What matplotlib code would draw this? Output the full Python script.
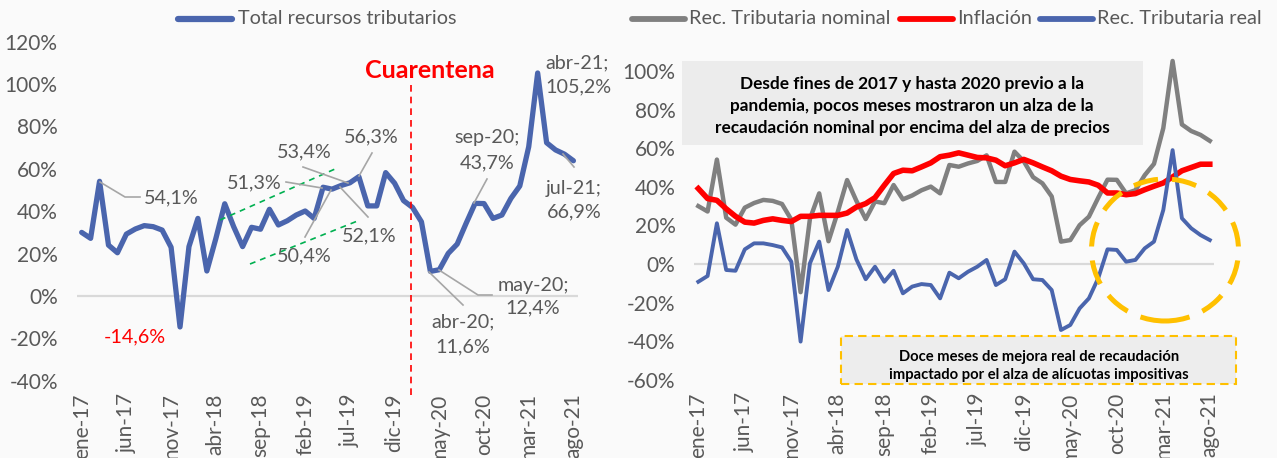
import matplotlib
matplotlib.use('Agg')
import matplotlib.pyplot as plt
from matplotlib.lines import Line2D
from matplotlib.patches import Ellipse, Rectangle

# ---------------- data ----------------
tick_labels = ['ene-17', 'jun-17', 'nov-17', 'abr-18', 'sep-18', 'feb-19', 'jul-19',
               'dic-19', 'may-20', 'oct-20', 'mar-21', 'ago-21']
tick_step = 5

# Total recursos tributarios / Rec. Tributaria nominal (% interanual), ene-17 .. ago-21
nominal = [30.0, 27.2, 54.1, 24.0, 20.4, 29.2, 31.6, 33.2, 32.7, 31.1,
           23.0, -14.6, 23.3, 36.6, 11.8, 27.0, 43.5, 32.7, 23.3, 32.4,
           31.5, 40.9, 33.5, 35.5, 38.2, 40.1, 36.6, 51.3, 50.4, 52.1,
           53.4, 56.3, 42.5, 42.5, 58.2, 53.2, 45.0, 41.8, 35.0, 11.6,
           12.4, 20.1, 24.5, 34.3, 43.7, 43.6, 36.6, 38.2, 46.0, 51.9,
           70.4, 105.2, 72.3, 68.9, 66.9, 63.8]

inflacion = [39.1, 33.9, 33.0, 28.6, 24.7, 21.7, 21.2, 22.6, 23.4, 22.6,
             22.0, 24.7, 24.7, 25.2, 25.2, 25.2, 26.4, 29.5, 31.3, 34.4,
             40.8, 46.9, 48.6, 48.3, 50.3, 52.4, 55.6, 56.4, 57.6, 56.4,
             55.2, 55.0, 53.8, 50.9, 52.4, 54.2, 52.4, 50.3, 48.3, 45.5,
             43.8, 43.1, 42.5, 40.8, 36.8, 36.8, 35.9, 36.5, 38.5, 40.3,
             42.0, 45.1, 48.3, 50.0, 51.7, 51.7]

real = [-9.2, -6.2, 21.1, -3.1, -3.5, 7.6, 10.7, 10.7, 9.8, 8.6,
        1.2, -40.2, 0.3, 11.6, -13.5, -1.4, 17.6, 2.4, -7.9, -1.4,
        -9.2, -3.5, -15.2, -11.7, -10.4, -10.9, -17.8, -4.5, -7.4, -4.0,
        -1.4, 2.1, -10.9, -7.9, 6.4, 0.3, -7.9, -8.3, -13.5, -34.2,
        -31.6, -23.0, -17.8, -7.4, 7.6, 7.3, 1.2, 2.1, 8.1, 11.6,
        28.0, 59.0, 23.7, 18.5, 15.0, 12.4]

x = list(range(len(nominal)))

# ---------------- style ----------------
W, H = 1277, 458
BG = '#fafafa'
BLUE = '#4a65ad'
GRAY = '#808080'
RED = '#ff0000'
TXT = '#595959'
GOLD = '#ffc000'
GREEN = '#00b050'
LEAD = '#a6a6a6'
TICK_FS = 15
LAB_FS = 14.2
LEG_FS = 14.3

plt.rcParams['font.family'] = ['Lato', 'DejaVu Sans']

fig = plt.figure(figsize=(W / 100, H / 100), dpi=100, facecolor=BG)


def fx(px):
    return px / W


def fy(py):
    return 1 - py / H


def ftext(px, py, s, **kw):
    kw.setdefault('ha', 'center')
    kw.setdefault('va', 'center')
    kw.setdefault('color', TXT)
    kw.setdefault('fontsize', LAB_FS)
    fig.text(fx(px), fy(py), s, **kw)


def fline(pts, color=LEAD, lw=1.2, **kw):
    fig.add_artist(Line2D([fx(p[0]) for p in pts], [fy(p[1]) for p in pts],
                          color=color, lw=lw, transform=fig.transFigure, **kw))


ax1 = fig.add_axes([fx(77.2), fy(380.8), (577.9 - 77.2) / W, (380.8 - 41.6) / H])
ax2 = fig.add_axes([fx(693.65), fy(379.8), (1214.45 - 693.65) / W, (379.8 - 71.0) / H])

for ax in (ax1, ax2):
    ax.set_facecolor('none')
    for s in ax.spines.values():
        s.set_visible(False)
    ax.set_xlim(-0.5, len(x) - 0.5)
    ax.axhline(0, color='#d9d9d9', lw=1.6, zorder=1)
    ax.set_xticks(range(0, len(x), tick_step))
    ax.set_xticklabels(tick_labels, rotation=90, color=TXT, fontsize=TICK_FS)
    ax.tick_params(axis='both', length=0, labelsize=TICK_FS, labelcolor=TXT)
    ax.tick_params(axis='x', pad=9)
ax1.tick_params(axis='y', pad=14)
ax2.tick_params(axis='y', pad=13)

# ---- left panel ----
ax1.set_ylim(-40, 120)
yt1 = list(range(-40, 121, 20))
ax1.set_yticks(yt1)
ax1.set_yticklabels([f'{v}%' for v in yt1])
ax1.plot(x, nominal, color=BLUE, lw=3.8, solid_joinstyle='round',
         solid_capstyle='round', zorder=3, clip_on=False)

# legend left
fline([(178, 19), (232, 19)], color=BLUE, lw=4.5, solid_capstyle='round')
ftext(238, 19, 'Total recursos tributarios', ha='left', fontsize=LEG_FS)

# quarantine line
fline([(411, 85), (411, 395)], color=RED, lw=1.2, linestyle=(0, (4, 3)))
ftext(430, 70, 'Cuarentena', color=RED, fontsize=18, fontweight='bold')

# green dashed trend lines
fline([(220, 220), (335, 169)], color=GREEN, lw=1.2, linestyle=(0, (3.5, 3)))
fline([(250, 264), (360, 220)], color=GREEN, lw=1.2, linestyle=(0, (3.5, 3)))

# data labels
ftext(171, 198, '54,1%')
fline([(100, 182), (125, 197), (140, 197)])
ftext(135, 337, '-14,6%', color=RED)
ftext(254, 183, '51,3%')
fline([(286, 182), (322, 188)])
ftext(304, 152, '53,4%')
fline([(303, 167), (348, 183)])
ftext(371, 137, '56,3%')
fline([(372, 153), (359, 176)])
ftext(304, 256, '50,4%')
fline([(305, 237), (331, 190)])
ftext(369, 236, '52,1%')
fline([(368, 217), (340, 187)])

ftext(545, 63, 'abr-21;', ha='left')
ftext(545, 87, '105,2%', ha='left')
ftext(487, 138, 'sep-20;')
ftext(487, 163, '43,7%')
fline([(487, 179), (474, 203)])
ftext(574, 188, 'jul-21;')
ftext(574, 212, '66,9%')
fline([(574, 167), (563, 154)])
ftext(533, 285, 'may-20;')
ftext(533, 308, '12,4%')
fline([(439, 270), (478, 295), (492, 295)])
ftext(463, 322, 'abr-20;')
ftext(463, 347, '11,6%')
fline([(429, 272), (463, 305)])

# ---- right panel ----
ax2.set_ylim(-60, 100)
yt2 = list(range(-60, 101, 20))
ax2.set_yticks(yt2)
ax2.set_yticklabels([f'{v}%' for v in yt2])
ax2.plot(x, nominal, color=GRAY, lw=3.2, solid_joinstyle='round', zorder=3, clip_on=False)
ax2.plot(x, inflacion, color=RED, lw=4.0, solid_joinstyle='round', zorder=4, clip_on=False)
ax2.plot(x, real, color=BLUE, lw=2.8, solid_joinstyle='round', zorder=5, clip_on=False)

# legend right
fline([(632, 19), (685, 19)], color=GRAY, lw=4.2, solid_capstyle='round')
ftext(689, 19, 'Rec. Tributaria nominal', ha='left', fontsize=LEG_FS)
fline([(900, 19), (953, 19)], color=RED, lw=4.2, solid_capstyle='round')
ftext(957, 19, 'Inflación', ha='left', fontsize=LEG_FS)
fline([(1040, 19), (1093, 19)], color=BLUE, lw=4.2, solid_capstyle='round')
ftext(1097, 19, 'Rec. Tributaria real', ha='left', fontsize=LEG_FS)

# top grey box
fig.add_artist(Rectangle((fx(682), fy(145)), fx(1143 - 682), (145 - 61) / H,
                         transform=fig.transFigure, facecolor='#ececec',
                         edgecolor='none', zorder=0.5))
for yy, s in [(84, 'Desde fines de 2017 y hasta 2020 previo a la'),
              (106, 'pandemia, pocos meses mostraron un alza de la'),
              (128, 'recaudación nominal por encima del alza de precios')]:
    ftext(912, yy, s, color='black', fontsize=12.4, fontweight='bold')

# bottom dashed box
fig.add_artist(Rectangle((fx(841), fy(384)), fx(1236 - 841), (384 - 336) / H,
                         transform=fig.transFigure, facecolor='#ededed',
                         edgecolor=GOLD, lw=1.5, linestyle=(0, (4, 2.5)), zorder=0.5))
ftext(1039, 357, 'Doce meses de mejora real de recaudación', color='black',
      fontsize=10.6, fontweight='bold')
ftext(1039, 375, 'impactado por el alza de alícuotas impositivas', color='black',
      fontsize=10.6, fontweight='bold')

# dashed ellipse
fig.add_artist(Ellipse((fx(1165), fy(250)), fx(147), 142 / H, transform=fig.transFigure,
                       facecolor='none', edgecolor=GOLD, lw=3.6,
                       linestyle=(0, (5, 2.8)), zorder=6))

fig.savefig('out.png', dpi=100, facecolor=BG)
